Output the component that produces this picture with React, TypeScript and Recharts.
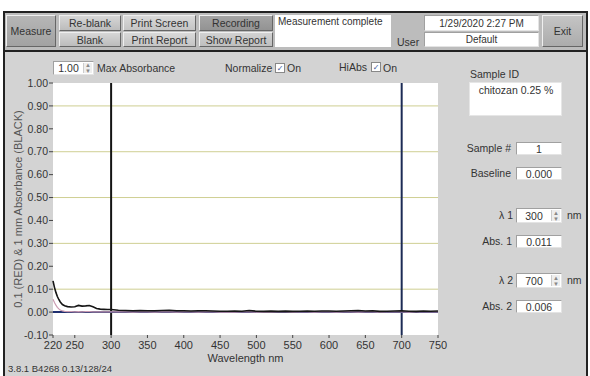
import React from 'react';
import { LineChart, Line, XAxis, YAxis, CartesianGrid, ReferenceLine } from 'recharts';

// scan wavelengths (nm)
const wavelengths = [
  220, 222, 224, 226, 228, 230, 233, 236, 240, 245, 250, 255, 260, 265, 270, 275, 280, 285, 290, 295,
  300, 310, 320, 330, 340, 350, 360, 370, 380, 390, 400, 410, 420, 430, 440, 450, 460, 470, 480, 490,
  500, 510, 520, 530, 540, 550, 560, 570, 580, 590, 600, 610, 620, 630, 640, 650, 660, 670, 680, 690,
  700, 710, 720, 730, 740, 750,
];

// 1 mm path absorbance (black trace)
const abs1mm = [
  0.136, 0.108, 0.086, 0.068, 0.055, 0.044, 0.033, 0.028, 0.024, 0.022, 0.023, 0.029, 0.026, 0.027, 0.029, 0.023, 0.016, 0.013, 0.012, 0.011,
  0.011, 0.008, 0.007, 0.006, 0.007, 0.006, 0.006, 0.007, 0.008, 0.006, 0.006, 0.005, 0.006, 0.006, 0.005, 0.004, 0.004, 0.005, 0.004, 0.007,
  0.004, 0.003, 0.004, 0.003, 0.004, 0.003, 0.004, 0.005, 0.004, 0.005, 0.005, 0.004, 0.005, 0.006, 0.007, 0.005, 0.006, 0.003, 0.004, 0.005,
  0.006, 0.004, 0.003, 0.005, 0.004, 0.005,
];

// 0.1 mm path absorbance (red trace)
const abs01mm = [
  0.056, 0.042, 0.030, 0.021, 0.014, 0.009, 0.005, 0.003, 0.002, 0.002, 0.001, 0.002, 0.001, 0.002, 0.002, 0.001, 0.001, 0.001, 0.001, 0.001,
  0.001, 0.001, 0.001, 0.0, 0.001, 0.001, 0.0, 0.001, 0.001, 0.0, 0.001, 0.001, 0.0, 0.001, 0.001, 0.0, 0.001, 0.0, 0.001, 0.001,
  0.0, 0.001, 0.0, 0.001, 0.001, 0.0, 0.001, 0.001, 0.0, 0.001, 0.001, 0.0, 0.001, 0.001, 0.0, 0.001, 0.001, 0.0, 0.001, 0.001,
  0.001, 0.0, 0.001, 0.001, 0.002, 0.001,
];

const xTicks = [220, 250, 300, 350, 400, 450, 500, 550, 600, 650, 700, 750];
const yTicks = [-0.1, 0, 0.1, 0.2, 0.3, 0.4, 0.5, 0.6, 0.7, 0.8, 0.9, 1.0];
const gridValues = [0.1, 0.2, 0.3, 0.4, 0.5, 0.6, 0.7, 0.8, 0.9];

const lambda1 = 300;
const lambda2 = 700;
const baseline = 0;

const FONT = '"Liberation Sans", Arial, sans-serif';

const data = wavelengths.map((w, i) => ({ w, black: abs1mm[i], red: abs01mm[i] }));

const Btn: React.FC<any> = ({ x, y, w, h, label, bg }) => (
  <div
    style={{
      position: 'absolute', left: x, top: y, width: w, height: h, boxSizing: 'border-box',
      background: bg, borderTop: '1px solid #efefef', borderLeft: '1px solid #efefef',
      borderRight: '1px solid #666', borderBottom: '1px solid #666',
      display: 'flex', alignItems: 'center', justifyContent: 'center',
      font: `10.5px ${FONT}`, color: '#333',
    }}
  >
    {label}
  </div>
);

const Field: React.FC<any> = ({ x, y, w, h, text, spin, size = 10.5 }) => (
  <div
    style={{
      position: 'absolute', left: x, top: y, width: w, height: h, boxSizing: 'border-box',
      background: '#fff', border: '1px solid #e4e4e4', borderTopColor: '#a0a0a0', borderLeftColor: '#a0a0a0',
      font: `${size}px ${FONT}`, color: '#333', display: 'flex', alignItems: 'center',
      justifyContent: 'center', paddingRight: spin ? 10 : 0,
    }}
  >
    {text}
    {spin && (
      <div
        style={{
          position: 'absolute', right: 1, top: 1, bottom: 1, width: 8, background: '#eee',
          borderLeft: '1px solid #ccc', font: `6px ${FONT}`, color: '#888', lineHeight: '6px',
          display: 'flex', flexDirection: 'column', alignItems: 'center', justifyContent: 'center',
        }}
      >
        <span>▲</span>
        <span>▼</span>
      </div>
    )}
  </div>
);

const Text: React.FC<any> = ({ x, y, text, anchor = 'left', size = 10.5, w = 80 }) => (
  <div
    style={{
      position: 'absolute', top: y - size * 0.6, left: anchor === 'left' ? x : anchor === 'center' ? x - w / 2 : x - w,
      width: w, textAlign: anchor === 'left' ? 'left' : anchor === 'center' ? 'center' : 'right',
      font: `${size}px ${FONT}`, color: '#333', whiteSpace: 'nowrap', lineHeight: `${size * 1.2}px`,
    }}
  >
    {text}
  </div>
);

const Check: React.FC<any> = ({ x, y }) => (
  <div
    style={{
      position: 'absolute', left: x, top: y, width: 10, height: 10, boxSizing: 'border-box',
      background: '#fff', border: '1px solid #888', font: `8px "DejaVu Sans"`, color: '#3a5a9a',
      lineHeight: '9px', textAlign: 'center',
    }}
  >
    ✓
  </div>
);

export default function App() {
  return (
    <div style={{ position: 'absolute', left: 0, top: 0, width: 590, height: 376, background: '#fff', overflow: 'hidden' }}>
      {/* toolbar */}
      <div style={{ position: 'absolute', left: 3, top: 11, width: 585, height: 41, boxSizing: 'border-box', border: '2px solid #222', background: '#bcbcbc' }} />
      <Btn x={6} y={15} w={50} h={32} label="Measure" bg="linear-gradient(#b6b6b6,#a2a2a2)" />
      <Btn x={59} y={15} w={62} h={16} label="Re-blank" bg="linear-gradient(#d6d6d6,#bcbcbc)" />
      <Btn x={59} y={32} w={62} h={15} label="Blank" bg="linear-gradient(#d6d6d6,#bcbcbc)" />
      <Btn x={123} y={15} w={73} h={16} label="Print Screen" bg="linear-gradient(#d9d9d9,#c4c4c4)" />
      <Btn x={123} y={32} w={73} h={15} label="Print Report" bg="linear-gradient(#d9d9d9,#c4c4c4)" />
      <Btn x={199} y={15} w={74} h={16} label="Recording" bg="linear-gradient(#a4a4a4,#939393)" />
      <Btn x={199} y={32} w={74} h={15} label="Show Report" bg="linear-gradient(#d2d2d2,#bebebe)" />
      <div style={{ position: 'absolute', left: 275, top: 15, width: 116, height: 32, background: '#fff' }} />
      <Text x={278} y={22} text="Measurement complete" w={112} size={10} />
      <Text x={397} y={42} text="User" />
      <Field x={424} y={15} w={115} h={16} text="1/29/2020  2:27 PM" size={10} />
      <Field x={424} y={32} w={115} h={15} text="Default" size={10} />
      <Btn x={542} y={15} w={41} h={32} label="Exit" bg="linear-gradient(#c4c4c4,#acacac)" />

      {/* chart panel */}
      <div style={{ position: 'absolute', left: 3, top: 50, width: 585, height: 330, boxSizing: 'border-box', borderLeft: '2px solid #222', borderRight: '2px solid #222', borderTop: '2px solid #222', background: '#d3d3d3' }} />

      <div style={{ position: 'absolute', left: 0, top: 0 }}>
        <LineChart width={590} height={376} data={data} margin={{ top: 83, right: 152, bottom: 11, left: 13 }}>
          <CartesianGrid vertical={false} horizontalValues={gridValues} fill="#ffffff" stroke="#cfcf92" strokeWidth={1} />
          <XAxis
            dataKey="w"
            type="number"
            domain={[220, 750]}
            ticks={xTicks}
            height={30}
            tickSize={3}
            tickMargin={3}
            axisLine={false}
            tickLine={{ stroke: '#444' }}
            tick={{ fontSize: 11, fill: '#333', fontFamily: FONT }}
            label={{ value: 'Wavelength nm', position: 'insideBottom', offset: 3, fontSize: 11, fill: '#333', fontFamily: FONT }}
          />
          <YAxis
            type="number"
            domain={[-0.1, 1.0]}
            ticks={yTicks}
            width={40}
            tickSize={4}
            tickMargin={1}
            axisLine={false}
            tickLine={{ stroke: '#444' }}
            tickFormatter={(v: number) => v.toFixed(2)}
            tick={{ fontSize: 10.5, fill: '#333', fontFamily: FONT }}
            label={{
              value: '0.1 (RED) & 1 mm Absorbance (BLACK)', angle: -90, position: 'insideLeft', offset: 5,
              style: { textAnchor: 'middle', fontSize: 11, fill: '#555', fontFamily: FONT },
            }}
          />
          <ReferenceLine x={lambda1} stroke="#141414" strokeWidth={2} />
          <ReferenceLine x={lambda2} stroke="#1c2b55" strokeWidth={2} />
          <ReferenceLine y={baseline} stroke="#1f2f70" strokeWidth={2} />
          <Line dataKey="red" stroke="#c99ab0" strokeWidth={1.2} dot={false} isAnimationActive={false} />
          <Line dataKey="black" stroke="#151515" strokeWidth={1.6} dot={false} isAnimationActive={false} />
        </LineChart>
      </div>

      {/* plot header controls */}
      <Field x={53} y={61} w={41} h={14} text="1.00" spin />
      <Text x={97} y={68} text="Max Absorbance" w={100} />
      <Text x={225} y={68} text="Normalize" />
      <Check x={275} y={63} />
      <Text x={287} y={68} text="On" />
      <Text x={339} y={67} text="HiAbs" />
      <Check x={371} y={62} />
      <Text x={383} y={68} text="On" />

      {/* side panel */}
      <Text x={470} y={74} text="Sample ID" />
      <div style={{ position: 'absolute', left: 469, top: 82, width: 93, height: 34, background: '#fff', border: '1px solid #e6e6e6', boxSizing: 'border-box' }} />
      <Text x={516} y={90} text="chitozan 0.25 %" anchor="center" w={90} />
      <Text x={511} y={148} text="Sample #" anchor="right" />
      <Field x={516} y={142} w={46} h={13} text="1" />
      <Text x={511} y={173} text="Baseline" anchor="right" />
      <Field x={516} y={167} w={46} h={13} text="0.000" />
      <Text x={513} y={215} text="λ 1" anchor="right" />
      <Field x={516} y={208} w={46} h={15} text="300" spin />
      <Text x={567} y={215} text="nm" />
      <Text x={512} y={241} text="Abs. 1" anchor="right" />
      <Field x={516} y={235} w={46} h={13} text="0.011" />
      <Text x={513} y={280} text="λ 2" anchor="right" />
      <Field x={516} y={273} w={46} h={15} text="700" spin />
      <Text x={567} y={280} text="nm" />
      <Text x={512} y={306} text="Abs. 2" anchor="right" />
      <Field x={516} y={300} w={46} h={13} text="0.006" />

      <Text x={8} y={369} text="3.8.1 B4268 0.13/128/24" size={9.5} w={140} />
    </div>
  );
}
